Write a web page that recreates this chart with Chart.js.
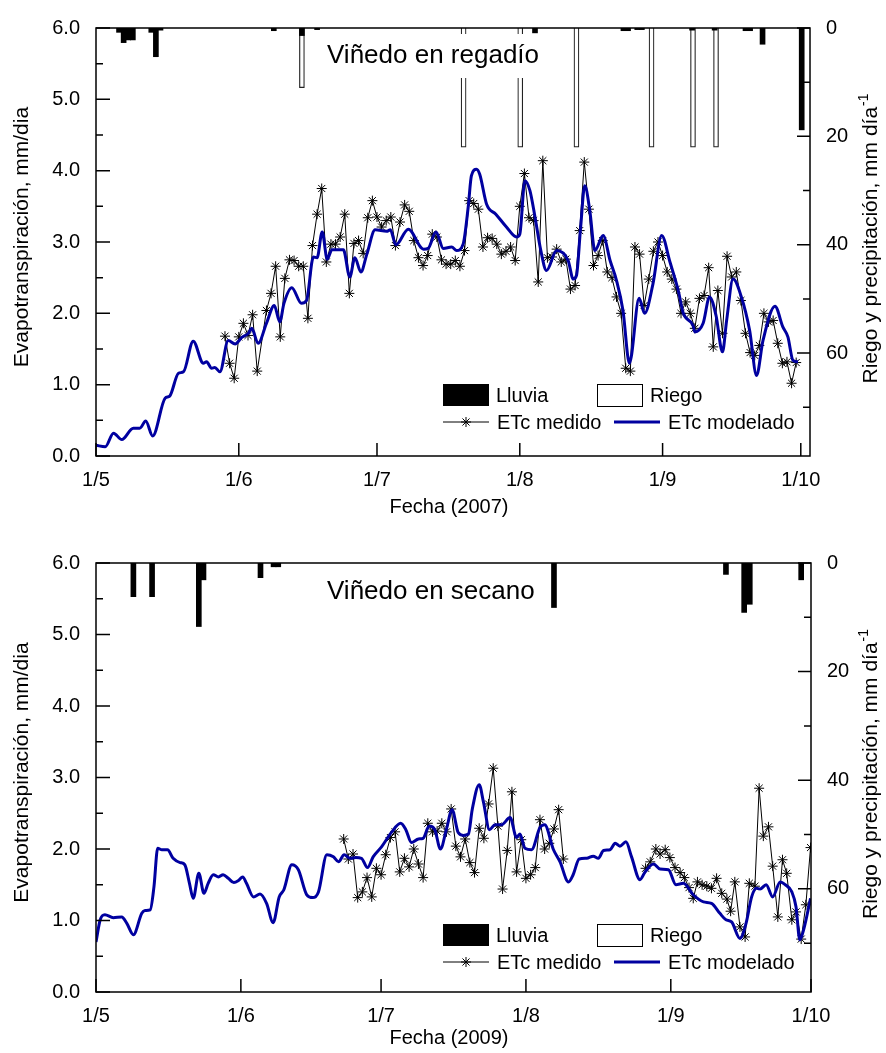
<!DOCTYPE html>
<html>
<head>
<meta charset="utf-8">
<script src="https://cdn.jsdelivr.net/npm/chart.js@4.4.1/dist/chart.umd.min.js"></script>
<style>
    html, body { margin: 0; padding: 0; background: #fff; }
    canvas { display: block; }
</style>
</head>
<body>
<canvas id="c2007" width="886" height="526"></canvas>
<canvas id="c2009" width="886" height="527"></canvas>
<script>
// dias contados desde el 1 de mayo
const mesesDias = [0, 31, 61, 92, 123, 153];
const mesesEtiquetas = ["1/5", "1/6", "1/7", "1/8", "1/9", "1/10"];
const riegoTicks = [0, 10, 20, 30, 40, 50, 60, 70];

// ---- 2007, viñedo en regadío ----
const modeloDias2007 = [0, 2, 3.8, 5.6, 8.1, 9.5, 10.8, 12.3, 15, 16, 17.9, 19, 21.1, 23.3, 24, 25.1, 25.8, 26.9, 28.7, 30.2, 31.6, 33.1, 33.8, 35.2, 37, 38.7, 39.9, 40.8, 42.5, 44.6, 45.7, 47.2, 48, 49.1, 50.2, 51.2, 53.7, 55.1, 56.2, 57.5, 58.8, 60.6, 63.1, 63.9, 65.1, 67.8, 71.1, 72.1, 73.8, 75.4, 77.2, 78.3, 79.7, 80.8, 81.5, 82.6, 83.3, 84.8, 86.8, 89.1, 91.3, 92, 93.1, 94.2, 95.3, 96.5, 97.8, 100, 102.5, 103.6, 104.3, 105.2, 106.1, 107.2, 108.3, 110.1, 111.6, 113, 114.4, 115.8, 116.2, 117.9, 119.1, 120.9, 122.8, 124.6, 126.4, 127.5, 129.6, 130, 131.8, 133.2, 134.6, 136, 136.9, 138.3, 140.1, 141.9, 143.4, 144.8, 147.4, 149.1, 150.2, 151.3, 152.4];
const modelo2007 = [0.15, 0.13, 0.32, 0.23, 0.39, 0.39, 0.49, 0.28, 0.81, 0.84, 1.16, 1.18, 1.61, 1.30, 1.32, 1.23, 1.24, 1.18, 1.62, 1.57, 1.66, 1.72, 1.79, 1.58, 1.86, 2.11, 1.88, 2.14, 2.36, 2.14, 2.18, 2.79, 2.78, 3.14, 2.76, 2.89, 2.89, 2.51, 2.78, 2.58, 2.83, 3.17, 3.15, 3.17, 2.96, 3.18, 2.90, 2.91, 3.14, 2.91, 2.93, 2.88, 2.97, 3.49, 3.93, 4.02, 3.95, 3.53, 3.39, 3.21, 3.07, 3.11, 3.86, 3.72, 3.35, 2.90, 2.60, 2.88, 2.74, 2.48, 2.53, 3.20, 3.79, 3.44, 2.88, 3.09, 2.74, 2.46, 2.04, 1.30, 1.39, 2.21, 2.00, 2.41, 3.09, 2.72, 2.32, 2.00, 1.83, 1.74, 1.86, 2.23, 1.97, 1.46, 1.90, 2.48, 2.23, 1.76, 1.13, 1.62, 2.10, 1.81, 1.67, 1.34, 1.32];

const medidoDias2007 = [28, 29, 30, 31, 32, 33, 34, 35, 37, 38, 39, 40, 41, 42, 43, 44, 45, 46, 47, 48, 49, 50, 51, 52, 53, 54, 55, 56, 57, 58, 59, 60, 61, 62, 63, 64, 65, 66, 67, 68, 69, 70, 71, 72, 73, 74, 75, 76, 77, 78, 79, 80, 81, 82, 83, 84, 85, 86, 87, 88, 89, 90, 91, 92, 93, 94, 95, 96, 97, 98, 99, 100, 101, 102, 103, 104, 105, 106, 107, 108, 109, 110, 111, 112, 113, 114, 115, 116, 117, 118, 119, 120, 121, 122, 123, 124, 125, 126, 127, 128, 129, 130, 131, 132, 133, 134, 135, 136, 137, 138, 139, 140, 141, 142, 143, 144, 145, 146, 147, 148, 149, 150, 151, 152];
const medido2007 = [1.68, 1.30, 1.09, 1.67, 1.86, 1.69, 1.98, 1.19, 2.04, 2.28, 2.66, 1.67, 2.49, 2.75, 2.74, 2.66, 2.66, 1.93, 2.95, 3.39, 3.75, 2.72, 2.97, 2.97, 3.07, 3.39, 2.28, 2.98, 3.02, 2.84, 3.34, 3.58, 3.35, 3.21, 3.30, 3.35, 2.95, 3.28, 3.52, 3.43, 3.02, 2.78, 2.67, 2.81, 3.11, 3.07, 2.75, 2.69, 2.69, 2.74, 2.66, 2.88, 3.58, 3.54, 3.46, 2.93, 3.06, 3.05, 2.97, 2.83, 2.87, 2.93, 2.74, 3.50, 3.96, 3.34, 3.30, 2.44, 4.14, 2.78, 2.79, 2.90, 2.72, 2.76, 2.34, 2.39, 3.16, 4.12, 3.46, 2.67, 2.81, 3.02, 2.58, 2.50, 2.23, 2.00, 1.23, 1.19, 2.93, 2.83, 2.11, 2.48, 2.87, 3.00, 2.81, 2.58, 2.48, 2.34, 2.00, 2.16, 2.00, 1.79, 2.21, 2.25, 2.64, 1.53, 2.32, 1.72, 2.80, 2.51, 2.58, 2.18, 1.72, 1.45, 1.41, 1.55, 2.00, 1.88, 1.90, 1.58, 1.30, 1.32, 1.02, 1.31];

const lluviaDias2007 = [5, 6, 7, 8, 12, 13, 14, 38.6, 44.7, 48, 95.3, 114.5, 115.5, 117.5, 118.5, 129.4, 134.3, 141, 142, 144.7, 153.2];
const lluvia2007 = [0.8, 2.7, 2.2, 2.2, 0.8, 5.3, 0.4, 0.5, 1.4, 0.3, 0.9, 0.5, 0.5, 0.3, 0.3, 0.4, 0.4, 0.5, 0.5, 3.0, 18.8];
const riegoDias2007 = [44.7, 79.8, 92.1, 104.3, 120.6, 129.6, 134.6];
const riego2007 = [11, 22, 22, 22, 22, 22, 22];

// ---- 2009, viñedo en secano ----
const modeloDias2009 = [0, 0.9, 1.9, 3.7, 5.5, 6.6, 8, 9.8, 10.5, 11.6, 12.4, 13.2, 14.1, 15.3, 16.5, 18, 19, 20, 20.8, 22, 23.1, 24, 25.1, 26.2, 27.2, 28.3, 29.5, 30.5, 31.4, 32.2, 33.7, 35.1, 36.5, 37.9, 39.2, 40.2, 41.9, 43.3, 45.1, 46.4, 47.6, 49.4, 50.8, 51.9, 53.1, 54.4, 55.6, 56.8, 58.1, 59.3, 61.1, 63.3, 65.2, 66.3, 67.5, 69, 70, 71.3, 72.5, 73.7, 75, 76.2, 77.5, 78.6, 79.7, 80.5, 82, 82.9, 84.2, 85.4, 86.8, 88.6, 90, 90.7, 91.8, 93.2, 95, 96, 97.9, 99.3, 101.1, 102.1, 103.4, 105, 106.4, 107.5, 108.6, 110, 111.1, 112.1, 113.4, 114.6, 116.4, 117.5, 119.3, 120.7, 122.5, 124.1, 125.7, 127.8, 130, 131.7, 133.5, 134.8, 136, 137.8, 139.1, 140.3, 141.3, 142.1, 143.4, 144.8, 146.4, 147.5, 148.9, 149.8, 150.6, 151.5, 152.9];
const modelo2009 = [0.70, 1.01, 1.08, 1.04, 1.05, 0.96, 0.80, 1.10, 1.14, 1.15, 1.47, 2.01, 1.99, 1.99, 1.87, 1.81, 1.78, 1.52, 1.31, 1.66, 1.38, 1.52, 1.64, 1.61, 1.64, 1.59, 1.53, 1.56, 1.61, 1.52, 1.33, 1.37, 1.24, 0.97, 1.33, 1.43, 1.78, 1.71, 1.36, 1.32, 1.40, 1.92, 1.89, 1.82, 1.92, 1.87, 1.88, 1.87, 1.74, 1.89, 2.03, 2.24, 2.36, 2.27, 2.09, 2.14, 2.15, 2.32, 2.27, 2.00, 2.28, 2.55, 2.23, 2.19, 2.21, 2.55, 2.90, 2.66, 2.27, 2.34, 2.34, 2.44, 2.16, 2.21, 2.01, 1.99, 2.30, 2.34, 1.99, 1.82, 1.54, 1.64, 1.86, 1.87, 1.90, 1.87, 1.98, 1.99, 2.08, 2.04, 2.10, 1.89, 1.57, 1.68, 1.79, 1.72, 1.71, 1.50, 1.52, 1.36, 1.26, 1.24, 1.10, 1.01, 0.98, 0.75, 0.96, 1.33, 1.45, 1.44, 1.50, 1.33, 1.54, 1.50, 1.40, 1.19, 0.73, 0.89, 1.31];

const medidoDias2009 = [53, 54, 55, 56, 57, 58, 59, 60, 61, 62, 63, 64, 65, 66, 67, 68, 69, 70, 71, 72, 73, 74, 75, 76, 77, 78, 79, 80, 81, 82, 83, 84, 85, 86, 87, 88, 89, 90, 91, 92, 93, 94, 95, 96, 97, 98, 99, 100, 108, 117.6, 118.6, 119.8, 120.7, 121.8, 122.8, 123.9, 125, 125.9, 126.9, 127.8, 128.7, 129.7, 130.7, 131.7, 132.8, 133.9, 135, 135.8, 136.7, 137.8, 138.9, 139.8, 141, 141.9, 142.8, 143.9, 144.8, 145.9, 146.9, 147.8, 148.9, 149.8, 150.9, 151.9, 152.9];
const medido2009 = [2.14, 1.86, 1.93, 1.32, 1.40, 1.60, 1.33, 1.73, 1.64, 1.92, 2.16, 2.24, 1.68, 1.87, 1.75, 2.00, 1.79, 1.60, 2.36, 2.24, 2.25, 2.36, 2.24, 2.56, 2.04, 1.89, 2.14, 1.81, 1.67, 2.29, 2.15, 2.63, 3.13, 2.32, 1.44, 1.98, 2.80, 1.68, 2.13, 1.59, 1.64, 1.74, 2.41, 2.00, 2.08, 2.28, 2.55, 1.86, null, 1.73, 1.82, 2.00, 1.93, 1.99, 1.88, 1.74, 1.67, 1.60, 1.46, 1.31, 1.54, 1.50, 1.48, 1.45, 1.59, 1.38, 1.30, 1.13, 1.54, 0.91, 0.77, 1.52, 1.48, 2.85, 2.18, 2.31, 1.76, 1.05, 1.85, 1.66, 1.01, 1.12, 0.74, 1.22, 2.02];

const lluviaDias2009 = [8, 12, 22, 23, 35.2, 38, 39, 98, 134.8, 138.7, 139.9, 150.9];
const lluvia2009 = [6.2, 6.2, 11.7, 3.1, 2.7, 0.7, 0.7, 8.2, 2.1, 9.1, 7.6, 3.1];
const riegoDias2009 = [];
const riego2009 = [];

const familia = '"Liberation Sans", Arial, Helvetica, sans-serif';
const azul = "#0000a0";
Chart.defaults.font.family = familia;
Chart.defaults.color = "#000";

const pares = (dias, vals) => dias.map((d, i) => ({ x: d, y: vals[i] }));

const decoracion = {
    id: "decoracion",
    afterDatasetsDraw(chart, args, o) {
        const ctx = chart.ctx;
        const a = chart.chartArea;
        ctx.save();

        // titulo del panel con fondo blanco
        ctx.font = "26px " + familia;
        ctx.textAlign = "left";
        ctx.textBaseline = "middle";
        const w = ctx.measureText(o.titulo).width;
        ctx.fillStyle = "#fff";
        ctx.fillRect(o.tituloX - 2, o.tituloY - 22, w + 4, 44);
        ctx.fillStyle = "#000";
        ctx.fillText(o.titulo, o.tituloX, o.tituloY);

        // leyenda
        const ds = chart.data.datasets;
        const y1 = a.bottom - o.leyenda1;
        const y2 = a.bottom - o.leyenda2;
        ctx.font = "20px " + familia;
        ctx.fillStyle = ds[2].backgroundColor;
        ctx.fillRect(443, y1 - 11, 46, 22);
        ctx.fillStyle = "#fff";
        ctx.fillRect(597, y1 - 11, 45, 22);
        ctx.strokeStyle = "#000";
        ctx.lineWidth = 1;
        ctx.strokeRect(597.5, y1 - 10.5, 45, 22);
        ctx.fillStyle = "#000";
        ctx.fillText(ds[2].label, 496, y1 + 1);
        ctx.fillText(ds[3].label, 650, y1 + 1);

        ctx.beginPath();
        ctx.moveTo(443, y2);
        ctx.lineTo(489, y2);
        ctx.strokeStyle = "#000";
        ctx.lineWidth = 1;
        ctx.stroke();
        Chart.helpers.drawPoint(ctx, { pointStyle: "star", radius: 5, borderWidth: 1 }, 466, y2);
        ctx.fillText(ds[1].label, 497, y2 + 1);

        ctx.beginPath();
        ctx.moveTo(614, y2);
        ctx.lineTo(660, y2);
        ctx.strokeStyle = azul;
        ctx.lineWidth = 3;
        ctx.stroke();
        ctx.fillStyle = "#000";
        ctx.fillText(ds[0].label, 668, y2 + 1);
        ctx.restore();
    },
    afterDraw(chart, args, o) {
        const ctx = chart.ctx;
        const a = chart.chartArea;
        const { x, y, y2 } = chart.scales;
        ctx.save();
        ctx.strokeStyle = "#000";
        ctx.lineWidth = 1.5;
        ctx.beginPath();
        y.ticks.forEach(t => {
            const p = y.getPixelForValue(t.value);
            const len = Number.isInteger(t.value) ? 14 : 7;
            ctx.moveTo(a.left, p);
            ctx.lineTo(a.left + len, p);
        });
        y2.ticks.forEach(t => {
            const p = y2.getPixelForValue(t.value);
            const len = t.value % 20 === 0 ? 13 : 7;
            ctx.moveTo(a.right, p);
            ctx.lineTo(a.right - len, p);
        });
        x.ticks.forEach(t => {
            const p = x.getPixelForValue(t.value);
            ctx.moveTo(p, a.bottom);
            ctx.lineTo(p, a.bottom - 13);
        });
        ctx.stroke();
        ctx.strokeRect(a.left, a.top, a.right - a.left, a.bottom - a.top);

        // titulos de los ejes
        const cy = (a.top + a.bottom) / 2;
        ctx.fillStyle = "#000";
        ctx.textBaseline = "middle";
        ctx.textAlign = "center";
        ctx.font = "20px " + familia;
        ctx.fillText(o.ejeX, 449, a.bottom + o.ejeXDist);

        ctx.font = "21px " + familia;
        ctx.save();
        ctx.translate(22, cy - 5);
        ctx.rotate(-Math.PI / 2);
        ctx.fillText("Evapotranspiración, mm/dia", 0, 0);
        ctx.restore();

        ctx.save();
        ctx.translate(871, cy - 3);
        ctx.rotate(-Math.PI / 2);
        const base = "Riego y precipitación, mm día";
        const sup = "-1";
        ctx.font = "21px " + familia;
        const wb = ctx.measureText(base).width;
        ctx.font = "14px " + familia;
        const ws = ctx.measureText(sup).width;
        const x0 = -(wb + ws) / 2;
        ctx.textAlign = "left";
        ctx.font = "21px " + familia;
        ctx.fillText(base, x0, 0);
        ctx.font = "14px " + familia;
        ctx.fillText(sup, x0 + wb + 1, -7);
        ctx.restore();

        ctx.restore();
    }
};

function crearGrafico(id, cfg) {
    const ctx = document.getElementById(id).getContext("2d");
    return new Chart(ctx, {
        type: "line",
        data: {
            datasets: [
                {
                    label: "ETc modelado",
                    data: pares(cfg.modeloDias, cfg.modelo),
                    borderColor: azul,
                    borderWidth: 3,
                    pointRadius: 0,
                    cubicInterpolationMode: "monotone",
                    yAxisID: "y",
                    order: 0
                },
                {
                    label: "ETc medido",
                    data: pares(cfg.medidoDias, cfg.medido),
                    borderColor: "#000",
                    borderWidth: 1,
                    pointStyle: "star",
                    pointRadius: 5,
                    pointBorderWidth: 1,
                    pointBorderColor: "#000",
                    tension: 0,
                    spanGaps: false,
                    yAxisID: "y",
                    order: 1
                },
                {
                    type: "bar",
                    label: "Lluvia",
                    data: pares(cfg.lluviaDias, cfg.lluvia),
                    backgroundColor: "#000",
                    barThickness: 5,
                    grouped: false,
                    yAxisID: "y2",
                    order: 2
                },
                {
                    type: "bar",
                    label: "Riego",
                    data: pares(cfg.riegoDias, cfg.riego),
                    backgroundColor: "#fff",
                    borderColor: "#222",
                    borderWidth: 1.2,
                    barThickness: 5,
                    grouped: false,
                    yAxisID: "y2",
                    order: 3
                }
            ]
        },
        options: {
            responsive: false,
            animation: false,
            devicePixelRatio: 1,
            layout: { padding: { top: cfg.arriba, left: 0, right: 0, bottom: 0 } },
            plugins: {
                legend: { display: false },
                tooltip: { enabled: false },
                decoracion: {
                    titulo: cfg.titulo,
                    tituloX: 327,
                    tituloY: cfg.tituloY,
                    ejeX: cfg.ejeX,
                    ejeXDist: cfg.ejeXDist,
                    leyenda1: cfg.leyenda1,
                    leyenda2: cfg.leyenda2
                }
            },
            scales: {
                x: {
                    type: "linear",
                    min: 0,
                    max: cfg.xMax,
                    offset: false,
                    grid: { display: false, drawTicks: false },
                    border: { display: false },
                    afterBuildTicks: s => { s.ticks = mesesDias.map(v => ({ value: v })); },
                    afterFit: s => { s.height = cfg.altoX; },
                    ticks: {
                        autoSkip: false,
                        maxRotation: 0,
                        padding: 12,
                        font: { size: 20 },
                        callback: v => mesesEtiquetas[mesesDias.indexOf(v)] ?? ""
                    }
                },
                y: {
                    position: "left",
                    min: 0,
                    max: 6,
                    grid: { display: false, drawTicks: false },
                    border: { display: false },
                    afterFit: s => { s.width = 96; },
                    ticks: {
                        stepSize: 0.5,
                        autoSkip: false,
                        padding: 16,
                        font: { size: 20 },
                        callback: v => Number.isInteger(v) ? v.toFixed(1) : ""
                    }
                },
                y2: {
                    position: "right",
                    min: 0,
                    max: 79,
                    reverse: true,
                    grid: { display: false, drawTicks: false },
                    border: { display: false },
                    afterBuildTicks: s => { s.ticks = riegoTicks.map(v => ({ value: v })); },
                    afterFit: s => { s.width = cfg.anchoDer; },
                    ticks: {
                        autoSkip: false,
                        padding: 16,
                        font: { size: 20 },
                        callback: v => v % 20 === 0 ? String(v) : ""
                    }
                }
            }
        },
        plugins: [decoracion]
    });
}

crearGrafico("c2007", {
    modeloDias: modeloDias2007, modelo: modelo2007,
    medidoDias: medidoDias2007, medido: medido2007,
    lluviaDias: lluviaDias2007, lluvia: lluvia2007,
    riegoDias: riegoDias2007, riego: riego2007,
    titulo: "Viñedo en regadío", tituloY: 56,
    ejeX: "Fecha (2007)", ejeXDist: 51,
    leyenda1: 61, leyenda2: 34,
    xMax: 155, arriba: 27, altoX: 70, anchoDer: 76
});

crearGrafico("c2009", {
    modeloDias: modeloDias2009, modelo: modelo2009,
    medidoDias: medidoDias2009, medido: medido2009,
    lluviaDias: lluviaDias2009, lluvia: lluvia2009,
    riegoDias: riegoDias2009, riego: riego2009,
    titulo: "Viñedo en secano", tituloY: 66,
    ejeX: "Fecha (2009)", ejeXDist: 46,
    leyenda1: 57, leyenda2: 30,
    xMax: 153, arriba: 37, altoX: 61, anchoDer: 75
});
</script>
</body>
</html>
